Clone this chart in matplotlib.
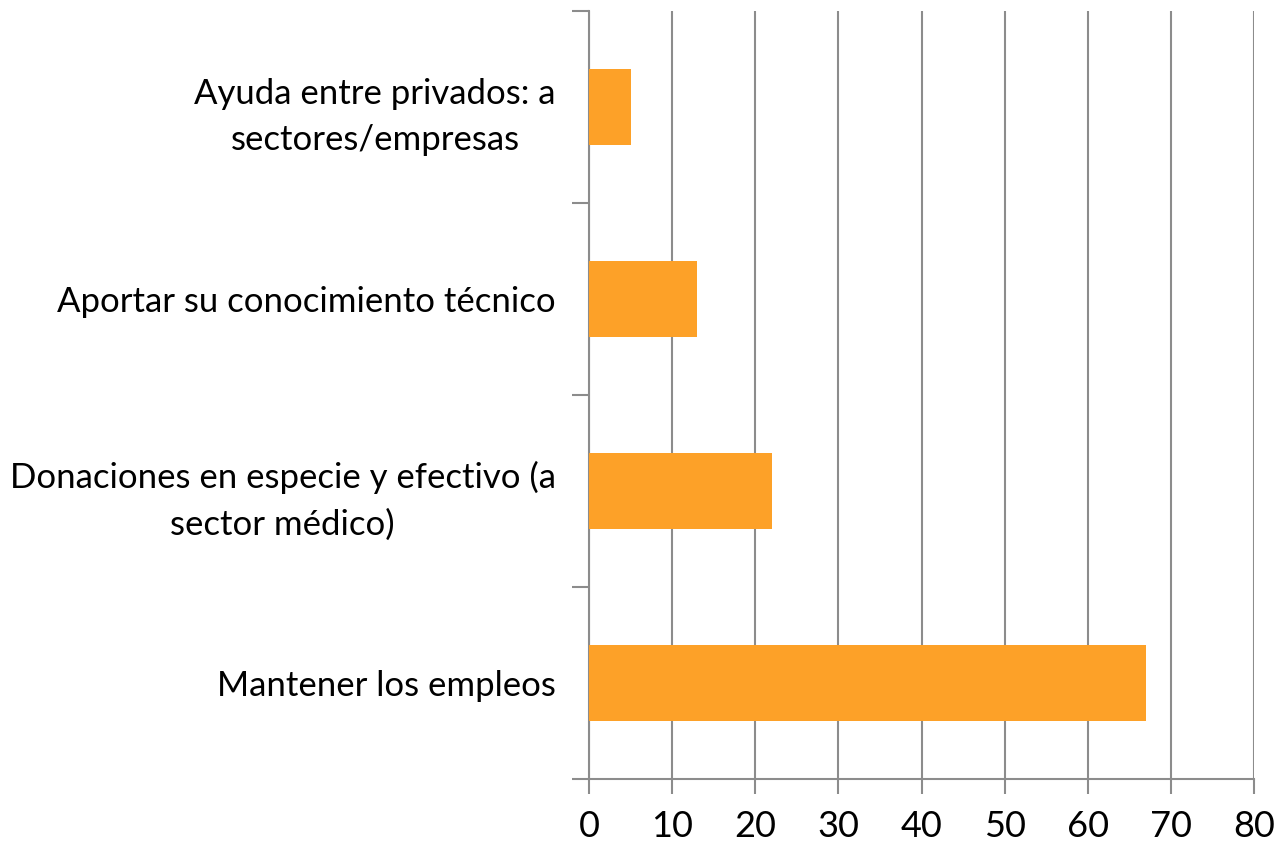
import matplotlib
matplotlib.use('Agg')
import matplotlib.pyplot as plt

categories = [
    'Mantener los empleos',
    'Donaciones en especie y efectivo (a\nsector médico)',
    'Aportar su conocimiento técnico',
    'Ayuda entre privados: a\nsectores/empresas',
]
values = [67, 22, 13, 5]
xticks = [0, 10, 20, 30, 40, 50, 60, 70, 80]

axis_gray = '#8c8c8c'
bar_color = '#fda128'

plt.rcParams['font.family'] = ['Lato', 'DejaVu Sans']

fig = plt.figure(figsize=(12.78, 8.41), dpi=100)
ax = fig.add_axes([589 / 1278, 1 - 779 / 841, (1254 - 589) / 1278, (779 - 11) / 841])

pos = list(range(len(categories)))
ax.barh(pos, values, height=0.4, color=bar_color, zorder=3)

ax.set_xlim(0, 80)
ax.set_ylim(-0.5, len(categories) - 0.5)

ax.set_xticks(xticks)
ax.set_xticklabels([str(t) for t in xticks], fontsize=26)
ax.xaxis.grid(True, color=axis_gray, linewidth=1.5, zorder=0)

# category boundaries as major ticks, labels on minor ticks
ax.set_yticks([p - 0.5 for p in pos] + [len(categories) - 0.5])
ax.set_yticklabels([])
ax.set_yticks(pos, minor=True)
ax.set_yticklabels(categories, minor=True, fontsize=25)
for lab in ax.get_yticklabels(minor=True):
    lab.set_multialignment('center')
    lab.set_linespacing(1.55)

ax.tick_params(axis='y', which='major', length=12, width=1.5, color=axis_gray)
ax.tick_params(axis='y', which='minor', length=0, pad=24)
ax.tick_params(axis='x', length=11, width=1.5, color=axis_gray, pad=11)

for s in ['top', 'right']:
    ax.spines[s].set_visible(False)
for s in ['left', 'bottom']:
    ax.spines[s].set_color(axis_gray)
    ax.spines[s].set_linewidth(1.5)

fig.savefig('out.png', dpi=100)
